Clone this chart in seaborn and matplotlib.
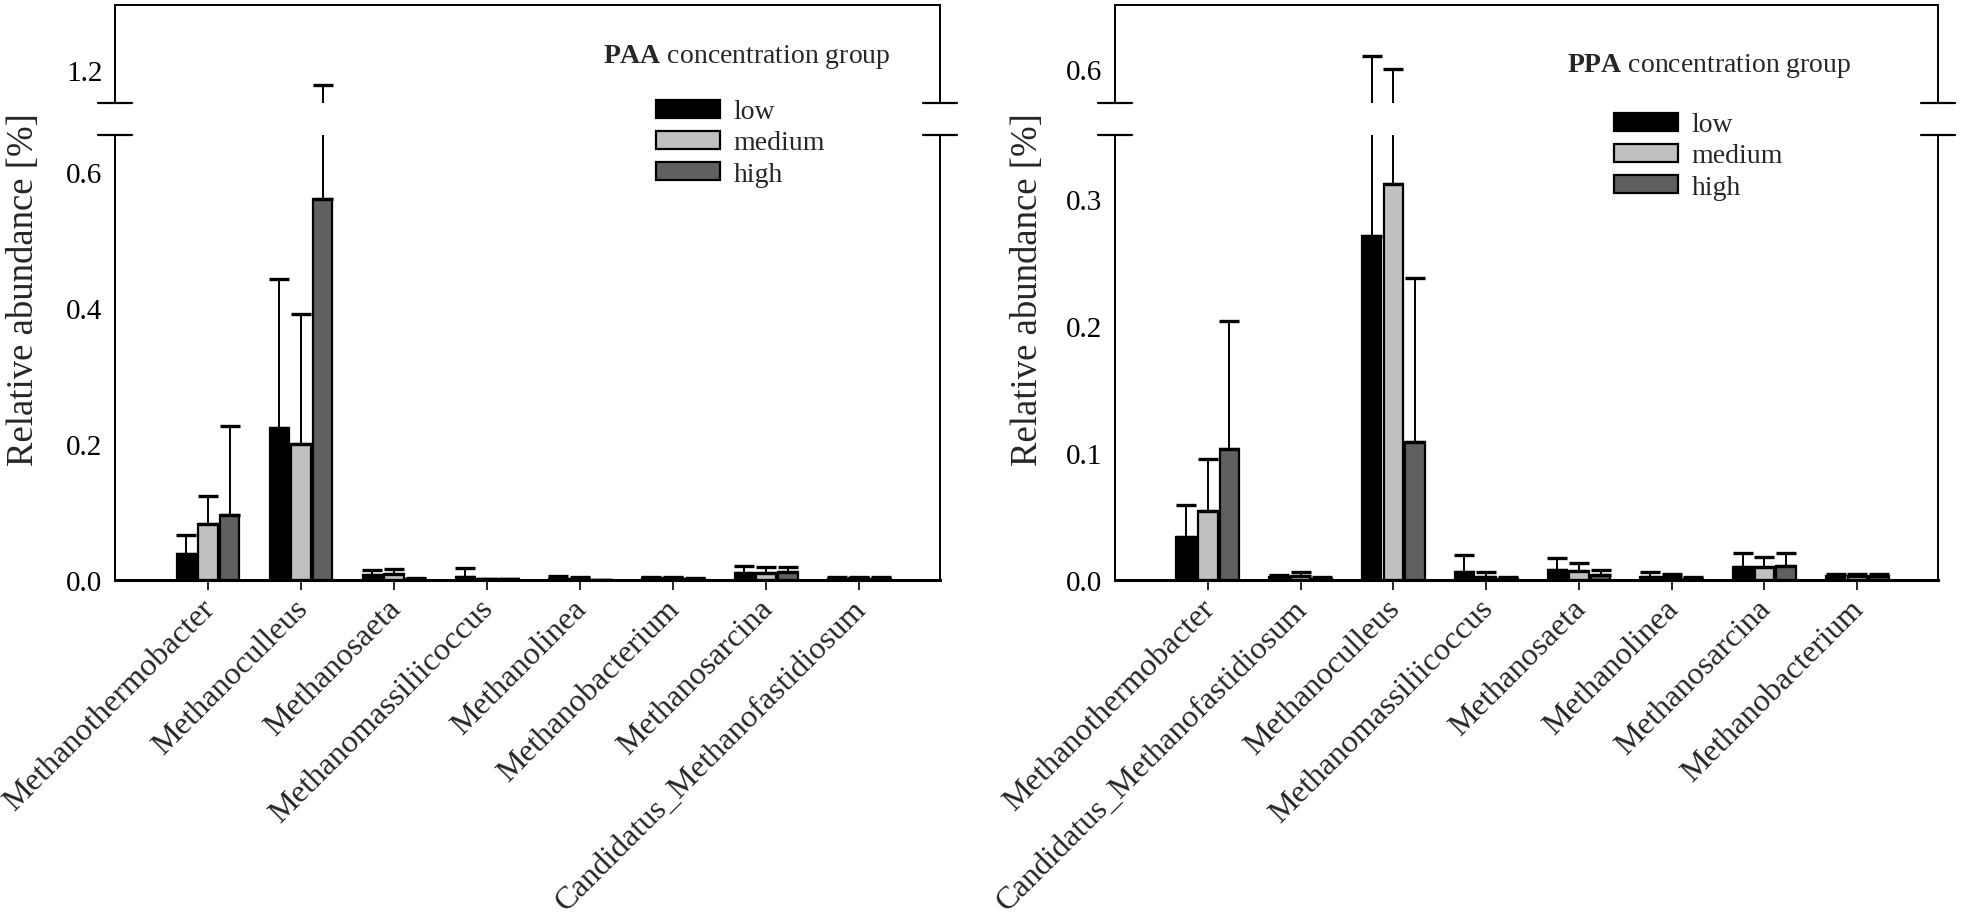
import pandas as pd
import matplotlib
matplotlib.use("Agg")
import matplotlib.pyplot as plt
import matplotlib.transforms as mtransforms
import seaborn as sns
from matplotlib.patches import Patch

# --- Data ---
LEVELS = ["low", "medium", "high"]
COLORS = ["#000000", "#c0c0c0", "#606060"]

PAA_GENERA = ["Methanothermobacter", "Methanoculleus", "Methanosaeta",
              "Methanomassiliicoccus", "Methanolinea", "Methanobacterium",
              "Methanosarcina", "Candidatus_Methanofastidiosum"]
PAA_LOW = [0.038, 0.223, 0.008, 0.005, 0.002, 0.003, 0.010, 0.002]
PAA_MEDIUM = [0.083, 0.200, 0.009, 0.001, 0.002, 0.003, 0.011, 0.003]
PAA_HIGH = [0.096, 0.560, 0.002, 0.001, 0.000, 0.001, 0.012, 0.002]
PAA_LOW_SD = [0.028, 0.219, 0.007, 0.012, 0.004, 0.002, 0.011, 0.002]
PAA_MEDIUM_SD = [0.041, 0.191, 0.007, 0.001, 0.002, 0.002, 0.008, 0.002]
PAA_HIGH_SD = [0.131, 0.618, 0.001, 0.001, 0.000, 0.002, 0.007, 0.003]

PPA_GENERA = ["Methanothermobacter", "Candidatus_Methanofastidiosum",
              "Methanoculleus", "Methanomassiliicoccus", "Methanosaeta",
              "Methanolinea", "Methanosarcina", "Methanobacterium"]
PPA_LOW = [0.034, 0.002, 0.271, 0.006, 0.008, 0.002, 0.010, 0.003]
PPA_MEDIUM = [0.054, 0.003, 0.312, 0.002, 0.007, 0.002, 0.010, 0.003]
PPA_HIGH = [0.103, 0.001, 0.109, 0.001, 0.004, 0.001, 0.011, 0.003]
PPA_LOW_SD = [0.025, 0.002, 0.339, 0.014, 0.009, 0.004, 0.011, 0.002]
PPA_MEDIUM_SD = [0.041, 0.003, 0.288, 0.004, 0.006, 0.003, 0.008, 0.002]
PPA_HIGH_SD = [0.101, 0.001, 0.129, 0.001, 0.004, 0.001, 0.010, 0.002]

W, H = 1961, 920

sns.set_theme(style="white")
plt.rcParams["font.family"] = ["Liberation Serif", "DejaVu Serif"]
plt.rcParams["mathtext.fontset"] = "custom"
plt.rcParams["mathtext.rm"] = "Liberation Serif"
plt.rcParams["mathtext.bf"] = "Liberation Serif:bold"


def to_frame(genera, low, medium, high):
    rows = []
    for level, vals in zip(LEVELS, [low, medium, high]):
        for g, v in zip(genera, vals):
            rows.append({"genus": g, "group": level, "value": v})
    return pd.DataFrame(rows)


def fig_box(x0, y0, x1, y1):
    """pixel box (top-left origin) -> figure fraction rect"""
    return [x0 / W, 1 - y1 / H, (x1 - x0) / W, (y1 - y0) / H]


def draw_panel(fig, x0, x1, genera, means, sds, low_lim, up_lim,
               low_ticks, up_ticks, tag, title_xy, legend_xy, ylabel_x):
    ax_up = fig.add_axes(fig_box(x0, 6, x1, 104))
    ax_lo = fig.add_axes(fig_box(x0, 136, x1, 581))
    df = to_frame(genera, *means)

    for ax in (ax_up, ax_lo):
        sns.barplot(data=df, x="genus", y="value", hue="group",
                    order=genera, hue_order=LEVELS, palette=COLORS,
                    saturation=1, width=0.7, gap=0.1, edgecolor="black",
                    linewidth=1.6, errorbar=None, legend=False, ax=ax)
        # one-sided (upper) error bars
        for container, sd in zip(ax.containers, sds):
            for bar, s in zip(container, sd):
                xc = bar.get_x() + bar.get_width() / 2
                ax.errorbar(xc, bar.get_height(), yerr=[[0], [s]], fmt="none",
                            ecolor="black", elinewidth=1.4, capsize=7,
                            capthick=2.4, zorder=1)
        ax.set_xlim(-1.0, 7.87)
        ax.set_xlabel("")
        ax.set_ylabel("")
        for sp in ax.spines.values():
            sp.set_linewidth(1.4)
            sp.set_color("black")
        ax.tick_params(axis="y", direction="in", length=7, width=1.4,
                       labelsize=21, pad=9, colors="black")

    ax_up.set_ylim(*up_lim)
    ax_up.set_yticks(up_ticks)
    ax_up.set_yticklabels([f"{t:.1f}" for t in up_ticks])
    ax_up.spines["bottom"].set_visible(False)
    ax_up.tick_params(axis="x", bottom=False, labelbottom=False)

    ax_lo.set_ylim(*low_lim)
    ax_lo.set_yticks(low_ticks)
    ax_lo.set_yticklabels([f"{t:.1f}" for t in low_ticks])
    ax_lo.spines["top"].set_visible(False)
    ax_lo.spines["bottom"].set_linewidth(2.2)
    ax_lo.tick_params(axis="x", direction="out", length=7, width=1.4,
                      bottom=True, pad=5)
    ax_lo.set_xticks(range(len(genera)))
    ax_lo.set_xticklabels(genera, rotation=45, ha="right",
                          rotation_mode="anchor", fontsize=23.2)
    shift = mtransforms.ScaledTranslation(-8 / 100, 3 / 100, fig.dpi_scale_trans)
    for lab in ax_lo.get_xticklabels():
        lab.set_transform(lab.get_transform() + shift)

    # break marks on both spines
    d = 17 / (x1 - x0)
    for xs in (0, 1):
        ax_up.plot([xs - d, xs + d], [0, 0], color="black", lw=1.6,
                   transform=ax_up.transAxes, clip_on=False)
        ax_lo.plot([xs - d, xs + d], [1, 1], color="black", lw=1.6,
                   transform=ax_lo.transAxes, clip_on=False)

    fig.text(ylabel_x / W, 1 - 290 / H, "Relative abundance [%]",
             rotation=90, ha="center", va="center", fontsize=26.5)

    fig.text(title_xy[0] / W, 1 - title_xy[1] / H,
             rf"$\mathbf{{{tag}}}$ concentration group",
             ha="left", va="center", fontsize=20)
    handles = [Patch(facecolor=c, edgecolor="black", linewidth=1.6, label=l)
               for c, l in zip(COLORS, LEVELS)]
    fig.legend(handles=handles, loc="center left",
               bbox_to_anchor=(legend_xy[0] / W, 1 - legend_xy[1] / H),
               frameon=False, fontsize=20, handlelength=2.3,
               handleheight=0.63, handletextpad=0.5, labelspacing=0.22,
               borderpad=0, borderaxespad=0)


fig = plt.figure(figsize=(W / 100, H / 100), dpi=100)

draw_panel(fig, 115, 940, PAA_GENERA,
           [PAA_LOW, PAA_MEDIUM, PAA_HIGH],
           [PAA_LOW_SD, PAA_MEDIUM_SD, PAA_HIGH_SD],
           (0, 0.654), (1.1515, 1.2956), [0.0, 0.2, 0.4, 0.6], [1.2],
           "PAA", (603, 57), (656, 144), 24)

draw_panel(fig, 1115, 1938, PPA_GENERA,
           [PPA_LOW, PPA_MEDIUM, PPA_HIGH],
           [PPA_LOW_SD, PPA_MEDIUM_SD, PPA_HIGH_SD],
           (0, 0.3504), (0.5732, 0.6504), [0.0, 0.1, 0.2, 0.3], [0.6],
           "PPA", (1567, 66), (1614, 157), 1028)

fig.savefig("out.png", dpi=100)
